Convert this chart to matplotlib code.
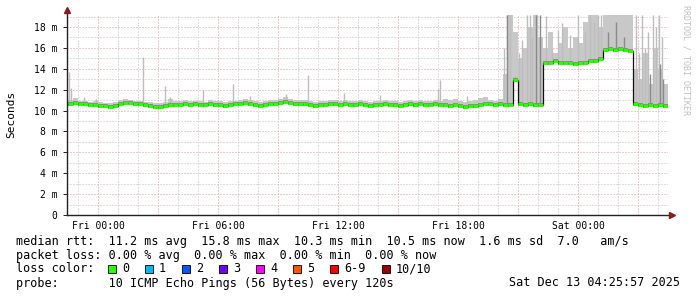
import numpy as np
import matplotlib

matplotlib.use("Agg")
import matplotlib.pyplot as plt
from matplotlib.patches import Rectangle

plt.rcParams["lines.scale_dashes"] = False

# --- data (hours relative to Fri 00:00, values in ms) ---
t_start = -1.5
step_h = 0.25

median_ms = [
    10.6, 10.7, 10.6, 10.6, 10.5, 10.5,
    10.4, 10.4, 10.3, 10.4, 10.6, 10.7, 10.7, 10.6,
    10.6, 10.5, 10.4, 10.3, 10.3, 10.4, 10.5, 10.5,
    10.5, 10.6, 10.5, 10.6, 10.5, 10.5, 10.6, 10.5,
    10.5, 10.4, 10.5, 10.6, 10.6, 10.7, 10.6, 10.5,
    10.4, 10.5, 10.6, 10.6, 10.7, 10.8, 10.7, 10.6,
    10.6, 10.6, 10.5, 10.4, 10.5, 10.5, 10.6, 10.6,
    10.5, 10.6, 10.5, 10.5, 10.6, 10.5, 10.4, 10.5,
    10.5, 10.6, 10.5, 10.5, 10.4, 10.5, 10.6, 10.5,
    10.6, 10.5, 10.5, 10.6, 10.5, 10.5, 10.4, 10.5,
    10.4, 10.3, 10.4, 10.4, 10.5, 10.6, 10.6, 10.5,
    10.6, 10.5, 10.5, 12.9, 10.6, 10.5, 10.6, 10.5,
    10.5, 14.6, 14.6, 14.7, 14.6, 14.6, 14.6, 14.5,
    14.6, 14.6, 14.7, 14.7, 14.9, 15.8, 15.9, 15.8,
    15.9, 15.8, 15.7, 10.6, 10.5, 10.4, 10.5, 10.4,
    10.5, 10.4,
]

smoke_max = [
    11.0, 11.2, 10.9, 10.9, 10.8, 10.9,
    10.8, 10.7, 10.7, 10.8, 11.0, 11.1, 11.0, 10.9,
    10.9, 10.8, 10.8, 10.7, 10.7, 10.8, 11.1, 10.9,
    10.9, 11.0, 10.9, 10.9, 10.9, 10.8, 11.0, 10.9,
    10.9, 10.8, 10.9, 10.9, 11.0, 11.1, 11.0, 10.9,
    10.8, 10.9, 11.0, 11.0, 11.1, 11.3, 11.1, 11.0,
    11.0, 11.0, 10.9, 10.8, 10.9, 10.9, 11.0, 11.0,
    10.9, 11.0, 10.9, 10.9, 11.0, 10.9, 10.8, 10.9,
    10.9, 11.0, 10.9, 10.9, 10.8, 10.9, 11.0, 10.9,
    11.0, 10.9, 10.9, 11.0, 10.9, 11.1, 11.0, 11.1,
    10.9, 10.8, 10.9, 11.0, 11.2, 11.3, 11.0, 10.9,
    11.1, 13.5, 19.2, 17.5, 15.0, 16.0, 18.0, 19.2,
    17.0, 16.0, 17.5, 15.5, 16.5, 18.0, 16.0, 17.0,
    16.5, 18.5, 19.2, 19.2, 18.0, 19.2, 19.2, 19.2,
    19.2, 19.2, 19.2, 14.0, 13.0, 15.5, 12.5, 16.0,
    14.0, 12.5,
]

# single outlier pings (time h, top ms)
spike_light_t = [-1.45, -1.35, -0.7, -0.1, 2.25, 3.35, 3.6, 5.25, 6.75, 7.6, 9.4,
                 10.5, 12.3, 14.1, 17.0, 17.1, 18.45,
                 20.3, 20.45, 20.6, 21.05, 21.2, 21.45, 21.6, 21.7,
                 22.4, 22.7, 23.0, 23.2, 23.6, 24.0, 24.35, 24.6, 24.8, 25.0, 25.15,
                 26.9, 27.05, 27.2, 27.35, 27.5, 27.75, 27.9, 28.05, 28.2]
spike_light_top = [13.7, 12.2, 11.3, 11.1, 15.1, 12.4, 11.3, 12.0, 12.5, 11.4, 11.6,
                   13.4, 11.7, 11.5, 12.1, 12.9, 11.4,
                   16.0, 19.2, 19.2, 15.5, 16.8, 19.2, 19.2, 17.0,
                   19.1, 16.0, 17.7, 18.4, 17.2, 19.2, 17.5, 19.2, 18.5, 19.2, 19.2,
                   19.2, 15.5, 19.2, 16.0, 17.5, 19.2, 18.0, 19.2, 17.0]
spike_dark_t = [20.45, 20.85, 21.9, 22.1,
                25.5, 25.9, 26.3, 27.6, 28.1, 28.25]
spike_dark_top = [19.2, 13.2, 19.2, 19.2,
                  17.5, 18.5, 17.0, 13.5, 14.5, 13.0]

x_ticks = [0, 6, 12, 18, 24]
x_labels = ["Fri 00:00", "Fri 06:00", "Fri 12:00", "Fri 18:00", "Sat 00:00"]
y_ticks = [0, 2, 4, 6, 8, 10, 12, 14, 16, 18]
y_labels = ["0", "2 m", "4 m", "6 m", "8 m", "10 m", "12 m", "14 m", "16 m", "18 m"]

loss_labels = ["0", "1", "2", "3", "4", "5", "6-9", "10/10"]
loss_colors = ["#26ff00", "#00b8ff", "#0059ff", "#7000ff", "#ff00ff", "#ff5500", "#ff0000", "#a10000"]

line_rtt = "median rtt:  11.2 ms avg  15.8 ms max  10.3 ms min  10.5 ms now  1.6 ms sd  7.0   am/s"
line_loss = "packet loss: 0.00 % avg  0.00 % max  0.00 % min  0.00 % now"
line_probe = "probe:       10 ICMP Echo Pings (56 Bytes) every 120s"
stamp = "Sat Dec 13 04:25:57 2025"

# --- figure ---
W, H = 697, 297
MONO = "DejaVu Sans Mono"
fig = plt.figure(figsize=(W / 100, H / 100), dpi=100)
fig.patch.set_facecolor("white")


def fx(x):
    return x / W


def fy(y):
    return 1 - y / H


ax = fig.add_axes([fx(67), fy(215), (668 - 67) / W, (215 - 14.5) / H])
ax.set_xlim(-1.55, 28.5)
ax.set_ylim(0, 19.2)

# grid: minor grey, major red, dotted (1px on, 2px off)
dots = (0, (0.72, 1.44))
for h in np.arange(-1, 29, 1):
    col = "#e09a9a" if h % 3 == 0 else "#c0c0c0"
    ax.axvline(h, color=col, lw=0.72, ls=dots, zorder=0)
for v in range(1, 20):
    col = "#e09a9a" if v % 2 == 0 else "#c0c0c0"
    ax.axhline(v, color=col, lw=0.72, ls=dots, zorder=0)

med = np.array(median_ms)
edges = t_start + step_h * np.arange(len(med) + 1)

# smoke
ax.stairs(smoke_max, edges, baseline=med, fill=True, color="#c8c8c8", lw=0, zorder=1)


def base_at(ts):
    idx = np.clip(np.searchsorted(edges, ts) - 1, 0, len(med) - 1)
    return med[idx]


ax.vlines(spike_light_t, base_at(spike_light_t), spike_light_top, color="#bdbdbd", lw=1.0, zorder=2)
ax.vlines(spike_dark_t, base_at(spike_dark_t), spike_dark_top, color="#8a8a8a", lw=1.0, zorder=2)

# median line: faint halo, black verticals, green horizontals
ax.hlines(med, edges[:-1], edges[1:], color="#8a8a8a", lw=2.8, zorder=3)
ax.stairs(med, edges, color="#111111", lw=0.9, baseline=None, zorder=4)
ax.hlines(med, edges[:-1], edges[1:], color="#26ff00", lw=2.2, zorder=5)

# axes styling
for side in ("top", "right", "left", "bottom"):
    ax.spines[side].set_visible(False)
ax.set_xticks(x_ticks)
ax.set_xticklabels(x_labels, family=MONO, fontsize=7)
ax.set_yticks(y_ticks)
ax.set_yticklabels(y_labels, family=MONO, fontsize=7)
ax.tick_params(axis="x", length=0, pad=4)
ax.tick_params(axis="y", length=3, width=0.6, pad=4)
ax.set_facecolor("white")

# axis lines with arrow heads
ax.plot([0, 1.006], [0, 0], color="#222222", lw=1.0, transform=ax.transAxes, clip_on=False, zorder=6)
ax.plot([0, 0], [0, 1.02], color="#222222", lw=1.0, transform=ax.transAxes, clip_on=False, zorder=6)
ax.plot([0], [1.02], marker="^", color="#8b1a1a", ms=4, transform=ax.transAxes, clip_on=False, zorder=7)
ax.plot([1.006], [0], marker=">", color="#8b1a1a", ms=4, transform=ax.transAxes, clip_on=False, zorder=7)

fig.text(fx(11), fy(114), "Seconds", rotation=90, family=MONO, fontsize=8,
         ha="center", va="center")
fig.text(fx(686), fy(60), "RRDTOOL / TOBI OETIKER", rotation=-90, family=MONO,
         fontsize=6, color="#c0c0c0", ha="center", va="center")

# legend block
fs = 8.5
fig.text(fx(16), fy(241), line_rtt, family=MONO, fontsize=fs, va="center")
fig.text(fx(16), fy(255), line_loss, family=MONO, fontsize=fs, va="center")
fig.text(fx(16), fy(269), "loss color:", family=MONO, fontsize=fs, va="center")
box_x = [108, 145, 182, 219, 256, 293, 330, 382]
for bx, lab, col in zip(box_x, loss_labels, loss_colors):
    fig.patches.append(Rectangle((fx(bx), fy(273)), 8 / W, 8 / H, transform=fig.transFigure,
                                 facecolor=col, edgecolor="black", lw=0.6))
    fig.text(fx(bx + 14), fy(269), lab, family=MONO, fontsize=fs, va="center")
fig.text(fx(16), fy(283), line_probe, family=MONO, fontsize=fs, va="center")
fig.text(fx(680), fy(283), stamp, family=MONO, fontsize=fs, va="center", ha="right")

fig.savefig("out.png", dpi=100, facecolor="white")
